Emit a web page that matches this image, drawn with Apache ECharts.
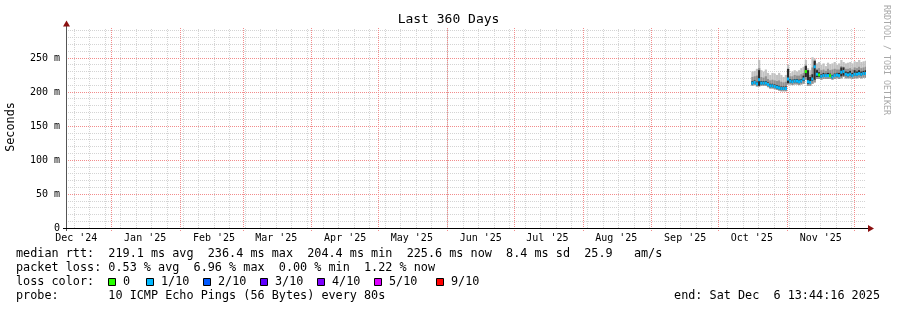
<!DOCTYPE html>
<html><head><meta charset="utf-8">
<script src="https://cdn.jsdelivr.net/npm/echarts@6/dist/echarts.min.js"></script>
<style>html,body{margin:0;padding:0;background:#fff}#c{width:897px;height:310px}</style>
</head><body><div id="c"></div>
<script>
const DAY = 86400000;
const rangeStart = Date.UTC(2024, 11, 11, 13, 44, 16);
const rangeEnd = Date.UTC(2025, 11, 6, 13, 44, 16);
const yMax = 294;

// daily values from Oct 16 2025 (milliseconds of RTT)
const firstDataDay = Date.UTC(2025, 9, 16);
const median = [213,214,212,218,213,213,213,211,209,209,208,207,206,205,205,205,219,216,215,216,216,215,216,219,230,215,214,219,237,226,225,223,224,224,224,224,222,224,225,224,229,230,226,225,226,224,226,226,227,226,227,227];
const smokeMin = [209,210,208,208,209,209,209,207,205,205,204,203,202,201,201,201,211,211,210,211,211,210,211,212,218,209,209,212,214,219,219,218,219,219,219,219,218,219,220,219,220,222,220,220,220,219,220,220,221,220,221,221];
const smokeMax = [230,231,234,247,232,230,233,228,225,228,227,225,228,225,222,225,240,228,230,232,230,232,235,237,247,235,232,251,249,242,244,240,242,238,243,241,242,244,240,242,247,244,242,243,244,242,245,244,247,244,245,246];
const smokeMidHi = [222,223,224,235,222,221,223,219,217,218,217,216,217,215,214,215,232,223,223,225,224,224,226,228,240,228,225,236,244,234,235,232,233,231,234,232,233,234,233,233,238,237,234,234,235,233,236,235,237,235,236,237];
const coreLo = [211,212,210,209,211,211,211,209,207,207,206,205,204,203,203,203,213,214,213,214,214,213,214,216,222,212,212,216,218,222,222,221,222,222,222,222,220,222,223,222,223,224,224,223,224,222,224,224,225,224,225,225];
const coreHi = [216,217,215,232,216,216,216,214,212,212,211,210,209,208,208,208,234,219,218,219,219,218,219,224,238,232,222,226,246,232,229,226,228,227,228,227,225,227,228,228,236,236,230,229,231,228,232,230,232,230,231,232];
const lossLevel = [1,1,1,1,1,1,1,1,1,1,1,1,1,1,1,1,1,1,1,1,1,1,1,1,0,1,1,1,1,1,0,1,1,1,1,0,1,1,1,1,1,1,1,1,1,1,1,1,1,1,1,1];

const yTicks = [0, 50, 100, 150, 200, 250];
const monthStarts = [[2025,0],[2025,1],[2025,2],[2025,3],[2025,4],[2025,5],[2025,6],[2025,7],[2025,8],[2025,9],[2025,10],[2025,11]];
const monthLabels = ["Dec '24","Jan '25","Feb '25","Mar '25","Apr '25","May '25","Jun '25","Jul '25","Aug '25","Sep '25","Oct '25","Nov '25"];
const labelMonths = [[2024,11],[2025,0],[2025,1],[2025,2],[2025,3],[2025,4],[2025,5],[2025,6],[2025,7],[2025,8],[2025,9],[2025,10]];

const lossColors = ['#26ff00','#00b8ff','#0059ff','#5e00ff','#7e00ff','#dd00ff','#ff0000'];
const lossNames = ['0','1/10','2/10','3/10','4/10','5/10','9/10'];

const FONT = '"DejaVu Sans Mono", monospace';
const MAJOR = '#f28c8c';
const MINOR = '#d4d4d4';

const monthStartTs = monthStarts.map(m => Date.UTC(m[0], m[1], 1));
const labelTs = labelMonths.map(m => Date.UTC(m[0], m[1], 1) + 15.2 * DAY);
const labelMap = new Map(labelTs.map((t, i) => [t, monthLabels[i]]));

// weekly (Sunday) grid lines
const weekTs = [];
for (let t = Date.UTC(2024, 11, 15); t <= rangeEnd; t += 7 * DAY) weekTs.push(t);

const smokeData = median.map((m, i) => [firstDataDay + i * DAY, smokeMin[i], smokeMax[i], smokeMidHi[i], coreLo[i], coreHi[i], m, lossLevel[i]]);

const chart = echarts.init(document.getElementById('c'), null, {renderer: 'canvas'});

const legendLines = [
  'median rtt:  219.1 ms avg  236.4 ms max  204.4 ms min  225.6 ms now  8.4 ms sd  25.9   am/s',
  'packet loss: 0.53 % avg  6.96 % max  0.00 % min  1.22 % now',
  'loss color:',
  'probe:       10 ICMP Echo Pings (56 Bytes) every 80s'
];
const lineY = [254, 268, 282, 296];
const boxX = [108, 146, 203, 260, 317, 374, 436];

const graphics = [];
legendLines.forEach((s, i) => graphics.push({type: 'text', x: 16, y: lineY[i], silent: true,
  style: {text: s, font: '11.8px ' + FONT, fill: '#000', align: 'left', verticalAlign: 'middle'}}));
graphics.push({type: 'text', x: 880, y: 296, silent: true,
  style: {text: 'end: Sat Dec  6 13:44:16 2025', font: '11.8px ' + FONT, fill: '#000', align: 'right', verticalAlign: 'middle'}});
lossNames.forEach((n, i) => {
  graphics.push({type: 'rect', silent: true, shape: {x: boxX[i] + 0.5, y: 278.5, width: 7, height: 7},
    style: {fill: lossColors[i], stroke: '#000', lineWidth: 1}});
  graphics.push({type: 'text', x: boxX[i] + 15, y: 282, silent: true,
    style: {text: n, font: '11.8px ' + FONT, fill: '#000', align: 'left', verticalAlign: 'middle'}});
});
graphics.push({type: 'text', x: 11, y: 127, rotation: Math.PI / 2, silent: true,
  style: {text: 'Seconds', font: '11.8px ' + FONT, fill: '#000', align: 'center', verticalAlign: 'middle'}});
graphics.push({type: 'text', x: 886, y: 60, rotation: -Math.PI / 2, silent: true,
  style: {text: 'RRDTOOL / TOBI OETIKER', font: '8.3px ' + FONT, fill: '#a8a8a8', align: 'center', verticalAlign: 'middle'}});
// axes lines and arrows
graphics.push({type: 'line', silent: true, z: 10, shape: {x1: 66.5, y1: 231, x2: 66.5, y2: 25}, style: {stroke: '#555', lineWidth: 1}});
graphics.push({type: 'line', silent: true, z: 10, shape: {x1: 63, y1: 228.5, x2: 869, y2: 228.5}, style: {stroke: '#000', lineWidth: 1}});
graphics.push({type: 'polygon', silent: true, z: 11, shape: {points: [[66.5, 20.5], [63, 26.5], [70, 26.5]]}, style: {fill: '#8b1010'}});
graphics.push({type: 'polygon', silent: true, z: 11, shape: {points: [[874, 228.5], [868, 225], [868, 232]]}, style: {fill: '#8b1010'}});

function vLines(list, color, below) {
  return {
    type: 'custom', z: 1, silent: true, clip: false, data: list.map(t => [t]),
    encode: {x: 0},
    renderItem: (params, api) => {
      const t = api.value(0);
      const a = api.coord([t, 0]), b = api.coord([t, yMax]);
      const x = Math.round(a[0]) + 0.5;
      return {type: 'line', silent: true, shape: {x1: x, y1: a[1] + below, x2: x, y2: b[1]},
        style: {stroke: color, fill: null, lineWidth: 1, lineDash: [1, 1]}};
    }
  };
}

chart.setOption({
  animation: false,
  backgroundColor: '#fff',
  title: {text: 'Last 360 Days', left: 'center', top: 8,
    textStyle: {fontFamily: FONT, fontSize: 13, fontWeight: 'normal', color: '#000'}},
  grid: {left: 66, right: 31, top: 28, bottom: 82, containLabel: false},
  xAxis: {
    type: 'value', min: rangeStart, max: rangeEnd,
    axisLine: {show: false},
    splitLine: {show: false},
    axisTick: {show: false},
    axisLabel: {customValues: labelTs, formatter: v => labelMap.get(v) || '', margin: 5,
      fontFamily: FONT, fontSize: 10, color: '#000'}
  },
  yAxis: {
    type: 'value', min: 0, max: yMax, interval: 10,
    axisLine: {show: false}, axisTick: {show: false},
    axisLabel: {formatter: v => yTicks.includes(v) ? (v === 0 ? '0' : v + ' m') : '', margin: 6,
      fontFamily: FONT, fontSize: 10, color: '#000'},
    splitLine: {show: true, showMaxLine: false,
      lineStyle: {color: [MAJOR, MINOR, MINOR, MINOR, MINOR], type: [1, 1], width: 1}}
  },
  series: [
    vLines(weekTs, MINOR, 0),
    vLines(monthStartTs, MAJOR, 3),
    {
      type: 'custom', z: 2, silent: true, clip: true, data: smokeData,
      encode: {x: 0, y: [1, 2]},
      renderItem: (params, api) => {
        const t = api.value(0);
        const x0 = api.coord([t, 0])[0], x1 = api.coord([t + DAY, 0])[0];
        const y = v => api.coord([t, v])[1];
        const rect = (lo, hi, fill) => ({type: 'rect', shape: {x: x0, y: y(hi), width: x1 - x0, height: y(lo) - y(hi)}, style: {fill: fill}});
        const med = y(api.value(6));
        return {type: 'group', children: [
          rect(api.value(1), api.value(2), '#c2c2c2'),
          rect(api.value(1), api.value(3), '#929292'),
          rect(api.value(4), api.value(5), '#2a2a2a'),
          {type: 'rect', shape: {x: x0, y: med - 1.5, width: x1 - x0, height: 3}, style: {fill: lossColors[api.value(7)]}}
        ]};
      }
    }
  ],
  graphic: graphics
});
</script></body></html>
